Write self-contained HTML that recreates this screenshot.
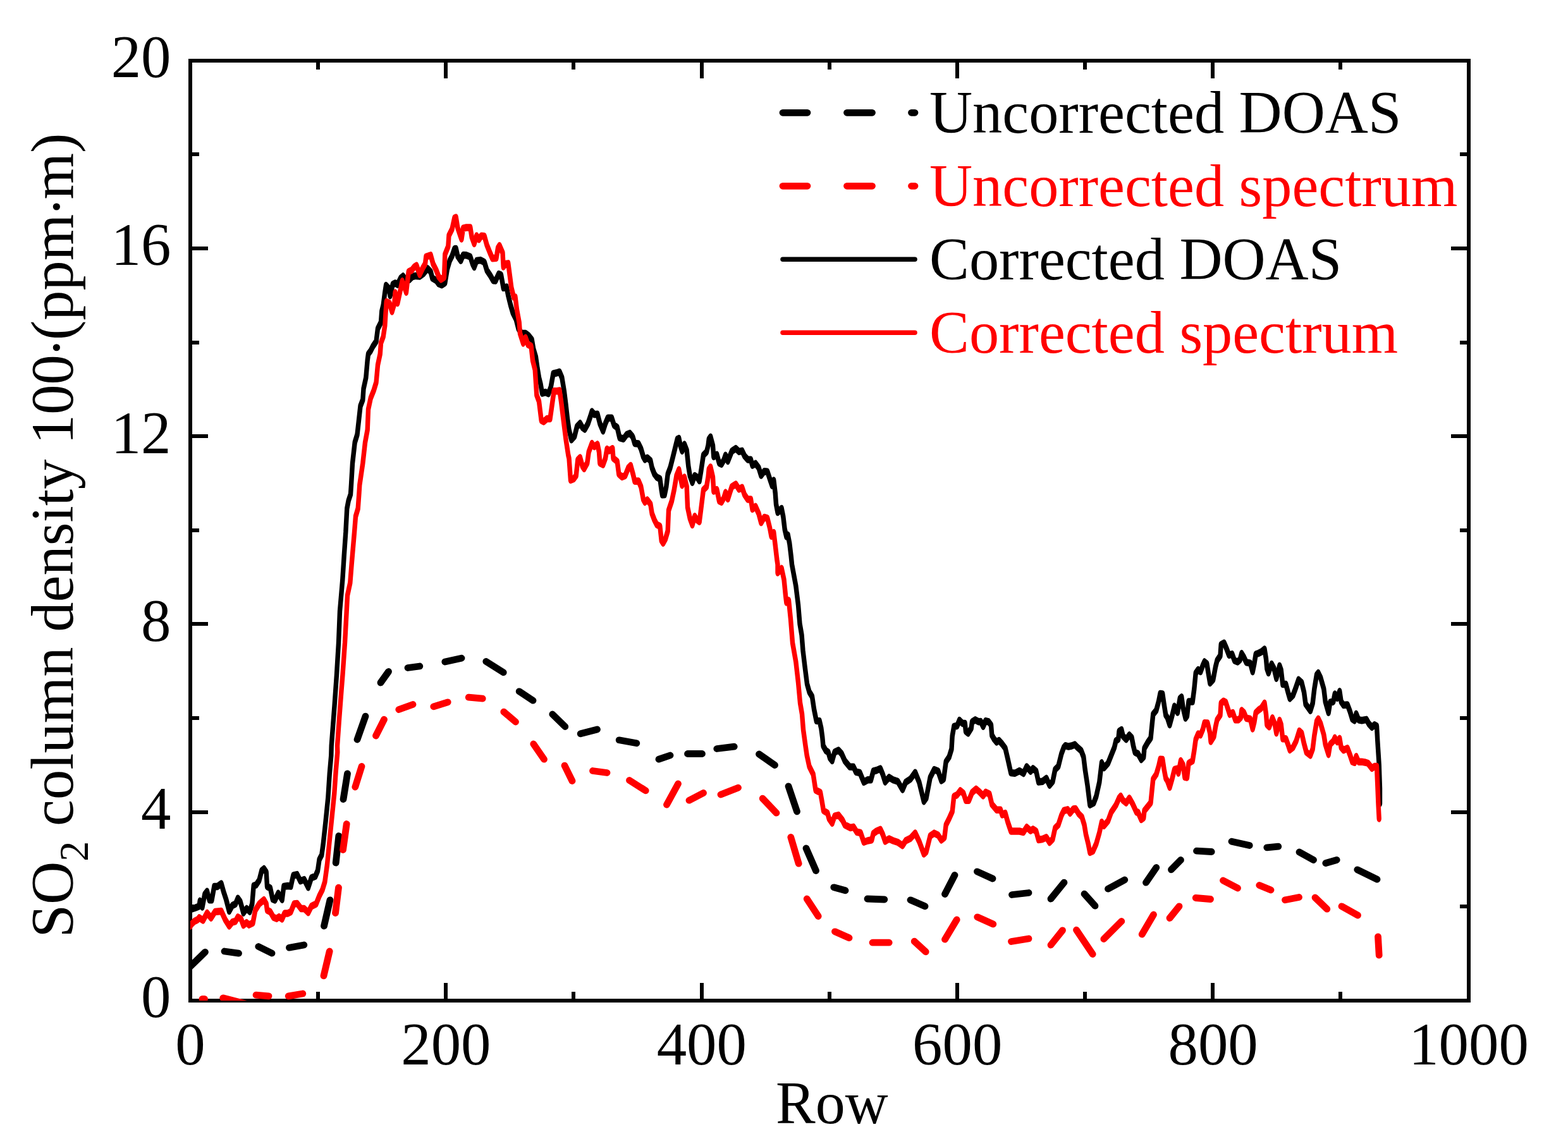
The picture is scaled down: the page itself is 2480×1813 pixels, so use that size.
<!DOCTYPE html>
<html lang="en"><head><meta charset="utf-8"><title>SO2 column density</title>
<style>html,body{margin:0;padding:0;background:#fff;}body{width:2480px;height:1813px;overflow:hidden;font-family:"Liberation Serif",serif;}svg text{white-space:pre;}</style>
</head><body>
<svg width="2480" height="1813" viewBox="0 0 2480 1813" style="display:block">
<defs><clipPath id="cp"><rect x="301" y="96" width="2022" height="1487"/></clipPath></defs>
<rect x="0" y="0" width="2480" height="1813" fill="#fff"/>
<rect x="301" y="96" width="2022" height="1487" fill="none" stroke="#000" stroke-width="6" shape-rendering="crispEdges"/>
<path d="M503 1583v-14M503 96v14M705 1583v-28M705 96v28M907 1583v-14M907 96v14M1110 1583v-28M1110 96v28M1312 1583v-14M1312 96v14M1514 1583v-28M1514 96v28M1716 1583v-14M1716 96v14M1918 1583v-28M1918 96v28M2120 1583v-14M2120 96v14M301 1434h14M2323 1434h-14M301 1285h28M2323 1285h-28M301 1136h14M2323 1136h-14M301 987h28M2323 987h-28M301 839h14M2323 839h-14M301 690h28M2323 690h-28M301 542h14M2323 542h-14M301 393h28M2323 393h-28M301 244h14M2323 244h-14" stroke="#000" stroke-width="6" fill="none" shape-rendering="crispEdges"/>
<g clip-path="url(#cp)">
<path d="M298.8 1531.2L324.5 1506.2M355 1505L377.5 1508.2M408.8 1497.5L430 1508M457.5 1499.2L480.8 1495M512.5 1465L522 1423.8M531.2 1365L535.8 1322.5M543 1264.5L549.5 1223.8M565 1170L578 1133.2M602 1080L614.5 1062.5M645 1056.5L663.8 1054M703.8 1047L730 1041.2M768.8 1046.5L796.2 1063.8M821.2 1093.8L843 1108.2M873.8 1130L893.8 1149.5M918.2 1160.8L944.5 1154M979.2 1170.8L1006.8 1175.8M1042 1201.2L1060 1195M1087.5 1192.5L1110.5 1192.5M1133.8 1184.5L1161.2 1181.2M1200.5 1193L1225.5 1210.5M1247 1243.8L1260.5 1283.8M1275 1342L1290.5 1377.5M1318.8 1403.8L1337 1408.8M1372 1422L1398.8 1423M1440 1423.8L1463 1433.8M1494.5 1414.5L1510 1384.5M1545.5 1378.8L1570 1390M1600.5 1415.5L1627 1412.5M1662 1422L1683 1396.2M1715 1414.2L1732 1433.2M1752.5 1406.2L1778.8 1392M1812.5 1396.2L1828.8 1372.5M1852.5 1375.8L1867.5 1360.5M1892.5 1346.2L1916.2 1347.5M1948 1331.2L1976.2 1337.5M2003.8 1340.8L2021.8 1339.2M2055 1348L2077.5 1360.5M2096.8 1365.5L2114.2 1360.5M2146.8 1375.8L2178 1391.2" fill="none" stroke="#000" stroke-width="10.8" stroke-linecap="round" stroke-linejoin="round"/>
<path d="M320 1580.4L323.5 1580.4M352.7 1578.8L390 1588.4M405 1574.2L425 1575.8M456.2 1575.8L478.8 1572M512 1543.8L521.2 1505M530.5 1444.5L535.5 1404.2M542.5 1344.5L548.2 1303.5M561.8 1245L572 1212.5M594.5 1164L607.5 1138.2M630.8 1122.5L653 1114.5M685.8 1117.8L708.2 1110.8M741.2 1103.2L763.2 1105.2M796.8 1126.2L815.5 1142M843.8 1177L860.5 1201.2M893 1211.2L905 1235.5M937.5 1219.5L960 1222.5M995.5 1234.5L1021.2 1250.8M1054.5 1273L1072.5 1240M1090 1266.2L1112.5 1254.5M1140 1257L1167.5 1246.2M1206.2 1263.2L1228 1286.2M1250.8 1324.5L1263.2 1366.2M1276.2 1422L1294.2 1449.5M1320.5 1473.8L1343 1483.8M1380 1491.2L1406.2 1491.2M1446.2 1489.2L1464.2 1505.8M1494.5 1486.2L1513.2 1455M1545.8 1450.8L1570.8 1462M1599.5 1489.5L1627 1485M1662 1495L1680.5 1471.8M1702.5 1471.2L1728.2 1509.5M1745.8 1485.5L1773.8 1457.5M1806.2 1478.2L1824.5 1447M1850 1452.5L1865 1433.8M1891.2 1420.5L1914.5 1422.5M1934.5 1393L1957.5 1405M1991.8 1400.5L2010 1408M2032.5 1423.8L2054.5 1419.5M2080 1420L2098.8 1438.2M2122 1433.8L2147.5 1448M2179.5 1481.8L2181.2 1511.2" fill="none" stroke="#f00" stroke-width="10.8" stroke-linecap="round" stroke-linejoin="round"/>
<polyline transform="scale(1 1.55)" points="301.2,928.23 308.8,926.61 315,925.00 316.2,919.54 320,925.78 323.8,912.90 327.5,909.83 331.2,918.55 335,918.55 338.8,904.84 343.8,904.84 350,901.86 353.8,910.48 357.5,917.74 362.5,929.98 367.5,924.19 372.5,922.58 376.2,916.86 380,920.16 385,931.71 390,927.40 395,930.45 398.8,922.58 401.2,904.03 405,903.23 410,898.39 413.8,888.71 417.5,886.74 421.2,890.32 422.5,904.84 427.5,906.45 431.2,917.74 435,918.69 440,911.78 446.2,918.24 448.8,904.84 455,904.21 460,904.58 463.8,893.55 470,892.66 475,899.17 481.2,897.73 487.5,905.73 492.5,895.97 498.8,894.35 502.5,888.71 505,877.42 508.8,872.58 511.2,861.29 515,838.71 518.8,814.52 521.2,790.32 523.8,770.97 524.2,761.29 529,720.65 532.5,688.39 535.5,656.13 537.5,623.87 541.8,591.61 544.2,567.42 546.8,543.23 548.8,519.03 551.2,510.97 554.5,504.52 555.5,494.84 557.5,472.90 561.2,451.61 565,443.55 567.5,429.03 570,414.52 573.8,408.06 575,396.77 578.8,385.48 581.2,367.74 582.5,361.29 586.2,358.06 590,353.23 595,348.39 597.5,335.48 602.5,329.03 603.8,317.74 606.2,311.29 608.8,298.39 610.5,291.29 615,294.35 617,301.80 621.2,290.32 625,288.99 628.8,290.50 633.8,283.87 637.5,281.90 641.2,285.48 647.5,285.48 652.5,282.26 657.5,281.56 663.8,281.98 670,279.03 676.2,274.05 681.2,277.42 683.8,283.87 690,286.29 693.8,289.52 698.8,290.85 703.8,288.71 707.5,274.19 711.2,266.13 715,261.29 718.8,254.03 721.2,253.85 723.8,261.29 728.8,266.02 732.5,260.31 737.5,260.48 743.8,262.10 747.5,269.35 750,272.64 753.8,266.13 760,265.55 766.2,267.74 770,275.81 775,280.65 780,286.29 783.8,286.55 788.8,279.65 792.5,280.65 796.2,293.81 801.2,292.99 803.8,301.61 807.5,311.29 811.2,319.35 816.2,325.81 820,335.48 825,340.32 831.2,340.32 836.2,342.74 841.2,346.77 843.8,356.45 847.5,364.52 850,375.81 852.5,385.48 855,391.94 857.5,401.33 862.5,400.34 867.5,401.69 871.2,395.16 875,381.45 880,380.65 885,379.65 888.8,385.48 892.5,400.00 895,412.90 897.5,427.42 900,438.71 903.8,448.81 908.8,445.16 912.5,435.48 917.5,432.08 921.2,436.29 925,438.13 930,432.26 933.8,425.00 936.2,420.05 940,422.97 945,422.71 948.8,432.26 953.8,439.89 957.5,432.26 961.2,426.61 967.5,426.55 971.2,433.87 976.2,436.29 980,446.77 986.2,447.91 991.2,443.55 996.2,442.29 1000,445.16 1001.2,446.77 1003.8,452.55 1010,452.96 1013.8,458.06 1017.5,466.13 1020,468.95 1023.8,467.32 1028.8,470.16 1031.2,477.42 1035,483.87 1038.8,487.10 1043.8,488.71 1046.2,500.00 1047.5,505.02 1051.2,504.84 1053.8,496.77 1056.2,483.87 1060,477.42 1063.8,467.74 1067.5,458.06 1071.2,448.39 1073.8,447.45 1076.2,454.84 1078.8,460.25 1082.5,453.55 1086.2,459.68 1088.8,475.81 1091.2,485.48 1095,492.36 1098.8,485.47 1102.5,487.10 1106.2,490.72 1108.8,480.65 1112.5,464.52 1117.5,461.29 1120,454.84 1121.2,448.39 1123.8,445.97 1127.5,454.84 1128.8,466.16 1133.8,463.97 1137.5,472.58 1141.2,473.74 1145,469.35 1147.5,464.64 1151.2,470.70 1155,464.52 1157.5,460.48 1163.8,457.77 1168.8,460.90 1173.8,460.23 1177.5,465.32 1182.5,469.02 1187.5,469.26 1190,474.98 1195,473.15 1200,477.42 1203.8,485.24 1208.8,481.10 1213.8,481.45 1217.5,488.71 1221.2,495.65 1223.8,490.29 1226.2,503.23 1227.5,514.52 1230,522.97 1236.2,518.97 1238.8,527.42 1241.2,540.32 1243.8,547.60 1246.2,546.06 1248.8,554.84 1251.2,567.74 1252.5,576.13 1258.8,598.06 1262.5,617.42 1265,636.77 1268,648.06 1270,664.19 1273,680.32 1276.5,698.06 1280,706.13 1284.5,710.97 1287.5,723.87 1291.2,735.65 1296.2,735.99 1298.8,743.23 1300.8,752.90 1302,761.29 1306.2,766.13 1310,767.74 1312.5,773.39 1316.2,776.46 1320,767.74 1326.2,765.79 1331.2,769.35 1336.2,776.61 1343.8,782.59 1350,782.79 1353.8,787.90 1360,788.71 1366.2,798.23 1372.5,795.97 1377.5,795.97 1381.2,787.10 1386.2,786.29 1392.5,784.56 1396.2,790.32 1400,798.08 1406.2,793.42 1412.5,795.97 1420,797.58 1427.5,805.97 1432.5,798.39 1440,795.16 1447.5,788.47 1453.8,798.39 1461.2,817.92 1465,814.52 1471.2,793.55 1477.5,785.47 1483.8,787.10 1488.8,796.76 1492.5,795.16 1496.2,777.42 1501.2,772.58 1505,764.52 1506.2,751.29 1508.8,741.61 1513.8,740.81 1517.5,735.11 1522.5,738.39 1526.2,738.39 1527.5,746.45 1531.2,748.34 1536.2,743.23 1537.5,736.77 1542.5,734.69 1547.5,736.56 1551.2,736.48 1555,741.46 1558.8,735.84 1563.8,736.77 1567.5,740.00 1568.8,750.48 1572.5,754.52 1576.2,757.35 1580,755.76 1585,759.35 1590,763.71 1593.8,774.19 1598.8,788.71 1605,789.25 1612.5,786.80 1618.8,789.38 1623.8,782.54 1630,787.21 1633.8,784.39 1638.8,787.10 1642.5,798.05 1648.8,797.58 1655,794.49 1660,801.46 1665,797.58 1668.8,785.48 1673.8,782.26 1678.8,769.35 1682.5,762.90 1685,761.06 1690,761.95 1695,761.29 1700,760.01 1703.8,762.58 1710,766.13 1713.8,772.58 1716.2,785.48 1720,801.61 1723.8,821.45 1730,819.35 1733.8,812.90 1738.8,798.39 1742.5,778.55 1746.2,783.68 1752.5,779.03 1757.5,770.97 1762.5,762.90 1765,756.13 1768.8,754.52 1770,746.45 1773.8,744.78 1776.2,751.29 1781.2,754.65 1786.2,750.27 1790,752.90 1792.5,761.29 1795,767.74 1800,769.35 1805,775.16 1808.8,772.58 1810,763.71 1815,758.06 1820,753.23 1822,740.32 1823.8,729.03 1828.8,725.00 1832.5,716.13 1835,708.06 1838.8,708.32 1841.2,719.35 1843.8,729.84 1846.2,732.26 1850,739.77 1853.8,730.65 1857.5,720.84 1862.5,727.16 1866.2,712.90 1868.8,711.50 1871.2,722.58 1875,732.97 1877.5,730.65 1880,716.13 1886.2,716.13 1888.8,703.23 1891.2,687.10 1895,683.57 1898.8,685.56 1902.5,679.03 1905,675.47 1908.8,677.42 1911.2,687.10 1913.8,697.11 1918.8,693.55 1922.5,680.65 1925,674.19 1930,669.35 1931.2,658.06 1936.2,656.31 1940,662.10 1943.8,668.63 1948.8,667.66 1952.5,674.19 1957.5,675.52 1961.2,673.39 1963.8,667.01 1967.5,670.97 1971.2,676.08 1977.5,676.84 1981.2,685.65 1983.8,677.42 1986.2,667.74 1990,666.94 1995,665.32 2000,662.53 2002.5,672.58 2003.8,682.26 2006.2,686.85 2011.2,677.74 2015,682.26 2018.8,692.42 2023.8,679.51 2026.2,683.87 2028.8,698.39 2033.8,698.39 2037.5,707.26 2040,712.92 2045,709.68 2048.8,703.23 2053.8,693.76 2058.8,696.77 2062.5,706.45 2065,718.55 2072.5,725.41 2076.2,717.74 2078.8,703.23 2082.5,688.71 2085,686.81 2088.8,691.94 2093.8,703.23 2096.2,716.13 2101.2,727.30 2103.8,716.94 2108.8,716.13 2111.2,708.36 2115,712.58 2118.8,705.59 2121.2,716.13 2125,719.72 2131.2,719.27 2135,725.81 2138.8,733.87 2142.5,735.41 2145,728.57 2148.8,734.68 2153.8,735.33 2161.2,734.40 2165,738.71 2170,742.24 2173.8,739.85 2177.5,741.13 2178.8,756.45 2181.2,780.65 2182.5,804.84 2182.5,820.16" fill="none" stroke="#000" stroke-width="7.4" stroke-linejoin="round" stroke-linecap="round"/>
<polyline transform="scale(1 1.55)" points="301.2,945.16 302.5,943.55 307.5,940.32 312.5,938.71 315,936.69 321.2,939.36 327.5,931.83 333.8,936.89 340,930.65 350,929.95 356.2,938.71 362.5,945.14 367.5,941.13 372.5,940.32 376.2,936.02 381.2,937.90 385,944.34 390,941.63 393.8,943.95 400,941.94 403.8,929.03 410,922.58 417.5,918.42 421.2,922.58 422.5,929.03 427.5,930.65 432.5,936.29 437.5,937.61 441.2,935.87 446.2,938.00 450,932.26 455,932.26 460,930.65 465,922.58 470,922.19 476.2,927.42 481.2,927.42 487.5,931.39 492.5,925.00 500,922.58 505,914.52 510,908.06 513.8,900.00 517.5,882.26 521.2,858.06 525,833.87 528.8,809.68 531.2,787.10 533.8,767.74 533.5,761.29 536.2,736.77 540,704.52 542,688.39 545.5,656.13 548.2,623.87 549.5,607.74 553.8,594.84 556.2,575.48 560.5,543.23 562.5,527.10 566.2,519.03 568,502.90 568.8,494.84 573.8,472.90 577.5,451.61 581.2,438.71 582.5,417.74 586.2,406.45 591.2,398.39 595,390.32 597.5,372.58 601.2,361.29 602.5,350.00 606.2,343.55 608.8,332.26 610,319.35 611.2,307.99 616.2,309.68 620,318.00 623.8,309.68 625,298.64 628.8,309.37 632.5,298.39 636.2,286.95 640,293.55 642.5,298.19 646.2,277.42 651.2,275.81 655,272.58 658.8,271.03 663.8,280.10 668.8,273.39 672.5,269.35 673.8,262.10 677.5,261.29 681.2,260.47 685,269.35 690,275.81 693.8,282.26 697.5,285.08 702.5,283.06 703.8,259.68 708.8,251.61 710,240.32 715,233.87 718.8,222.58 721.2,221.87 723.8,232.26 727.5,239.52 730,243.92 732.5,233.06 737.5,232.26 743.8,232.26 746.2,241.94 750,248.70 753.8,240.65 757.5,244.43 761.2,240.76 766.2,241.13 770,250.00 775,258.06 778.8,263.71 785,263.35 787.5,253.23 790,250.68 795,258.06 796.2,272.33 800,269.35 803.8,268.92 806.2,280.65 808.8,293.55 812.5,303.23 815,303.23 817.5,316.13 821.2,329.03 822.5,340.32 827.5,350.29 831.2,344.68 835,351.61 840,353.23 842.5,367.74 846.2,377.42 848.8,403.23 852.5,409.68 856.2,429.03 860,430.32 865,427.42 870,427.42 872.5,416.13 876.2,399.19 881.2,399.19 885,398.69 887.5,409.68 891.2,429.03 895,448.39 898.8,464.52 900,467.74 902.5,490.00 907.5,488.71 911.2,485.48 913.8,469.35 917.5,467.03 921.2,475.81 923.8,478.43 928.8,472.58 931.2,461.29 936.2,452.58 940,455.82 945,453.44 947.5,461.29 948.8,472.58 953.8,474.27 957.5,467.74 960,458.32 963.8,459.98 968.8,457.83 970,467.74 976.2,470.97 978.8,483.87 983.8,486.76 988.8,485.48 993.8,477.42 997.5,475.10 1001.2,483.87 1003.8,491.06 1010,490.97 1013.8,496.77 1017.5,509.68 1020,512.45 1023.8,510.23 1028.8,514.52 1031.2,524.19 1035,530.65 1038.8,535.48 1043.8,537.10 1046.2,551.61 1048.8,554.30 1052.5,550.00 1056.2,541.94 1057.5,520.97 1062.5,511.29 1066.2,500.00 1070,485.48 1073.8,479.38 1076.2,487.10 1078.8,495.33 1082.5,487.06 1086.2,496.77 1087.5,517.74 1091.2,529.03 1095,535.74 1098.8,526.94 1102.5,530.65 1106.2,532.47 1108.8,519.35 1112.5,500.00 1117.5,496.77 1120,487.10 1121.2,479.03 1123.8,476.71 1127.5,487.10 1128.8,501.29 1133.8,499.71 1137.5,511.29 1141.2,512.45 1145,508.06 1147.5,502.65 1151.2,509.24 1155,501.61 1157.5,496.77 1163.8,494.25 1168.8,499.32 1173.8,497.61 1177.5,504.84 1182.5,509.68 1187.5,509.68 1190,519.69 1195,517.03 1200,524.19 1203.8,533.40 1208.8,528.04 1213.8,529.03 1217.5,538.71 1220,547.21 1223.8,543.52 1226.2,556.45 1228.8,570.97 1230,576.13 1230,584.59 1236.2,580.22 1240,591.61 1242.5,607.74 1243.8,614.79 1247.5,612.90 1250.5,631.94 1253.5,656.13 1258.8,675.48 1262.5,696.45 1265.5,717.42 1268.5,728.71 1270.5,744.84 1274,761.29 1276.2,770.97 1280,782.26 1286.2,790.32 1290,806.45 1297.5,808.87 1300,817.74 1302.5,827.42 1308.8,829.84 1311.2,835.48 1316.2,840.15 1320,833.06 1326.2,831.96 1332.5,837.10 1336.2,841.94 1345,844.85 1350,844.06 1355,849.19 1361.2,850.00 1366.2,859.52 1372.5,858.06 1378.8,857.26 1381.2,850.81 1386.2,848.39 1392.5,846.59 1396.2,851.61 1400,858.76 1406.2,856.10 1412.5,858.06 1420,859.68 1427.5,863.01 1432.5,858.06 1440,855.65 1447.5,850.34 1453.8,858.87 1461.2,871.64 1465,869.35 1471.2,853.23 1477.5,850.40 1483.8,852.42 1488.8,857.44 1493.8,854.84 1496.2,841.94 1501.2,835.48 1506.2,828.23 1508.8,812.90 1513.8,811.29 1518.8,807.02 1523.8,809.68 1527.5,816.94 1532.5,816.94 1537.5,808.87 1543.8,805.34 1548.8,808.06 1555,812.23 1558.8,808.61 1565,810.48 1568.8,820.97 1576.2,826.61 1582.5,826.61 1585,831.58 1590,830.00 1593.8,838.71 1598.8,848.33 1605,848.39 1612.5,848.39 1618.8,849.40 1623.8,844.35 1630,847.92 1633.8,846.31 1638.8,848.39 1642.5,857.13 1648.8,856.45 1655,854.68 1660,859.75 1665,856.45 1668.8,845.16 1673.8,841.94 1678.8,832.26 1682.5,827.42 1688.8,826.31 1692.5,829.97 1697.5,825.81 1701.2,825.40 1706.2,830.65 1711.2,833.87 1715,841.94 1717.5,851.61 1721.2,861.29 1723.8,869.95 1728.8,868.55 1733.8,861.29 1738.8,850.00 1742.5,839.15 1746.2,842.76 1752.5,837.90 1757.5,829.03 1765,821.77 1770,814.52 1772.5,812.57 1776.2,816.94 1781.2,819.48 1786.2,814.61 1791.2,820.16 1797.5,829.03 1800,829.03 1805,836.42 1808.8,834.68 1810,827.42 1815,823.39 1820,819.35 1822,806.45 1823.8,795.16 1828.8,790.32 1832.5,782.26 1835,775.00 1838.8,775.19 1841.2,785.48 1843.8,794.35 1846.2,796.77 1850,803.60 1853.8,795.16 1857.5,785.48 1862.5,784.64 1863.8,789.11 1867.5,776.47 1871.2,780.65 1873.8,793.16 1877.5,793.55 1880,779.03 1886.2,776.61 1888.8,766.13 1891.2,754.84 1895,749.01 1898.8,750.19 1902.5,744.35 1905,737.90 1910,738.05 1913.8,748.39 1915,756.80 1920,751.61 1922.5,741.94 1925,734.68 1930,729.84 1931.2,717.74 1935,715.60 1938.8,716.94 1942.5,724.19 1945,729.16 1950,727.45 1953.8,734.68 1958.8,734.68 1962.5,732.26 1963.8,725.15 1967.5,727.42 1971.2,733.06 1977.5,733.87 1981.2,743.85 1983.8,737.10 1986.2,727.42 1990,725.00 1995,722.58 2000,717.63 2002.5,729.03 2003.8,739.52 2007.5,741.81 2012.5,732.71 2016.2,738.71 2018.8,748.19 2023.8,735.15 2026.2,739.52 2028.8,754.03 2033.8,753.95 2037.5,760.48 2040,765.45 2045,762.90 2050,756.45 2055,746.10 2058.8,748.39 2062.5,758.87 2066.2,767.74 2072.5,770.93 2076.2,764.52 2078.8,750.81 2082.5,736.29 2085,733.65 2088.8,738.71 2093.8,750.00 2096.2,759.68 2101.2,770.08 2103.8,759.68 2108.8,756.45 2111.2,753.07 2115,757.27 2118.8,753.62 2121.2,762.90 2125,765.68 2131.2,763.71 2135,770.16 2138.8,777.42 2142.5,778.26 2145,772.05 2148.8,777.60 2153.8,777.53 2160,778.23 2163.8,779.03 2170,784.17 2173.8,782.26 2177.5,782.26 2178.8,801.61 2180,820.97 2181.2,835.48" fill="none" stroke="#f00" stroke-width="7.4" stroke-linejoin="round" stroke-linecap="round"/>
</g>
<g font-family="'Liberation Serif', serif" font-size="96" fill="#000">
<text transform="translate(301 1684) scale(0.988 1)" text-anchor="middle">0</text>
<text transform="translate(705.4 1684) scale(0.988 1)" text-anchor="middle">200</text>
<text transform="translate(1109.8 1684) scale(0.988 1)" text-anchor="middle">400</text>
<text transform="translate(1514.2 1684) scale(0.988 1)" text-anchor="middle">600</text>
<text transform="translate(1918.6 1684) scale(0.988 1)" text-anchor="middle">800</text>
<text transform="translate(2323 1684) scale(0.988 1)" text-anchor="middle">1000</text>
<text transform="translate(270.5 1608.8) scale(0.988 1)" text-anchor="end">0</text>
<text transform="translate(270.5 1311.4) scale(0.988 1)" text-anchor="end">4</text>
<text transform="translate(270.5 1014) scale(0.988 1)" text-anchor="end">8</text>
<text transform="translate(270.5 716.6) scale(0.988 1)" text-anchor="end">12</text>
<text transform="translate(270.5 419.2) scale(0.988 1)" text-anchor="end">16</text>
<text transform="translate(270.5 121.8) scale(0.988 1)" text-anchor="end">20</text>
<text transform="translate(1315.8 1777) scale(0.979 1)" text-anchor="middle">Row</text>
<text transform="translate(114.8 1483.5) rotate(-90) scale(0.985 1)" text-anchor="start">SO<tspan font-size="65" dy="24">2</tspan><tspan dy="-24"> column density 100</tspan><tspan dx="-4.3" dy="6.3">·</tspan><tspan dx="-4.3" dy="-6.3">(ppm</tspan><tspan dx="-4.3" dy="6.3">·</tspan><tspan dx="-4.3" dy="-6.3">m)</tspan></text>
<path d="M1238 178.3h39M1339.5 178.3h40M1441.5 178.3h5.5" stroke="#000" stroke-width="10.8" stroke-linecap="round" fill="none"/>
<text transform="translate(1470 210) scale(0.9825 1)" text-anchor="start" fill="#000">Uncorrected DOAS</text>
<path d="M1238 294.3h39M1339.5 294.3h40M1441.5 294.3h5.5" stroke="#f00" stroke-width="10.8" stroke-linecap="round" fill="none"/>
<text transform="translate(1470 326) scale(0.9825 1)" text-anchor="start" fill="#f00">Uncorrected spectrum</text>
<path d="M1238 410.3H1447" stroke="#000" stroke-width="7.5" stroke-linecap="round" fill="none"/>
<text transform="translate(1470 442) scale(0.9825 1)" text-anchor="start" fill="#000">Corrected DOAS</text>
<path d="M1238 526.3H1447" stroke="#f00" stroke-width="7.5" stroke-linecap="round" fill="none"/>
<text transform="translate(1470 558) scale(0.9825 1)" text-anchor="start" fill="#f00">Corrected spectrum</text>
</g>
</svg>
</body></html>
